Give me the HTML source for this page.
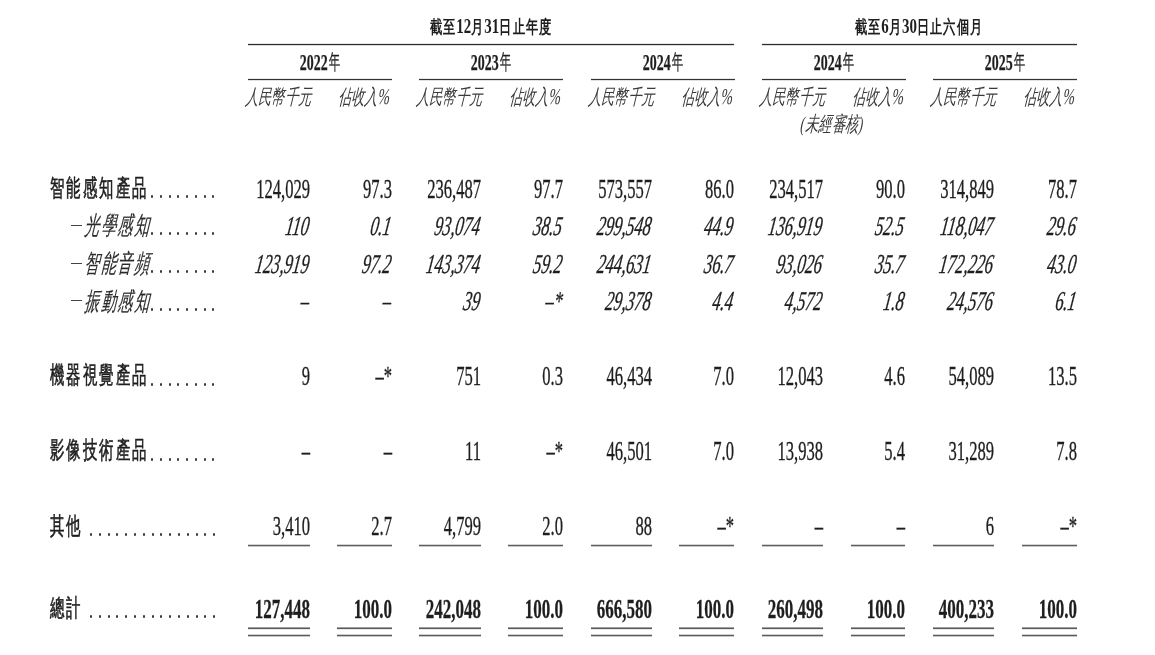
<!DOCTYPE html>
<html><head><meta charset="utf-8"><style>
html,body{margin:0;padding:0;background:#fff;width:1155px;height:655px;overflow:hidden}
body{position:relative;font-family:"Liberation Serif",serif;color:#1e1e1e}
#w{position:absolute;left:0;top:0;width:1155px;height:655px;filter:grayscale(0.7)}
.b{position:absolute}
.ln{box-shadow:0 0 0.8px rgba(0,0,0,0.55)}
.t{position:absolute;white-space:nowrap;line-height:1}
.t.r{width:1000px;text-align:right;transform-origin:100% 0}
.t.r.ni{transform-origin:100% 60%}
.t.c{width:2000px;text-align:center;transform-origin:50% 0}
.t.l{transform-origin:0 60%}
.n{font-family:"Liberation Serif",serif;-webkit-text-stroke:0.35px #1e1e1e}
.ni{font-family:"Liberation Serif",serif;font-style:italic;-webkit-text-stroke:0.35px #1e1e1e}
.nb{font-family:"Liberation Serif",serif;font-weight:bold;-webkit-text-stroke:0.3px #1e1e1e}
.hb{font-family:"Liberation Serif",serif;font-weight:bold}
.dg{font-size:1.22em;letter-spacing:0;line-height:0}
.pc{font-size:1.08em;line-height:0;letter-spacing:0}
.yd{font-size:1.07em;line-height:0;-webkit-text-stroke:0.25px #1e1e1e}
.yn{display:inline-block;font-weight:400;transform:translateY(-1px) scaleX(0.85);transform-origin:0 0;margin-right:-3px;margin-left:2px;-webkit-text-stroke:0.3px #1e1e1e}
.hy{font-family:"Liberation Serif",serif;font-weight:bold}
.hi{font-family:"Liberation Serif",serif;font-style:italic;font-weight:300;color:#3a3a3a}
.lb{font-family:"Liberation Sans",sans-serif;font-weight:400;color:#1e1e1e;-webkit-text-stroke:0.65px #1e1e1e}
.li{font-family:"Liberation Serif",serif;font-style:italic;font-weight:300;color:#2a2a2a;-webkit-text-stroke:0.2px #2a2a2a}
.d{position:absolute;width:2px;height:3px;border-radius:1px;background:#3a3a3a}
</style></head><body><div id="w">
<div class="b" style="left:248px;top:44px;width:486px;height:1px;background:#2d2d2d;box-shadow:0 -1px 0 #e4e4e4,0 1px 0 #d8d8d8"></div>
<div class="b" style="left:762px;top:44px;width:315px;height:1px;background:#2d2d2d;box-shadow:0 -1px 0 #e4e4e4,0 1px 0 #d8d8d8"></div>
<div class="b" style="left:248px;top:79px;width:144px;height:1px;background:#333;box-shadow:0 -1px 0 #e8e8e8,0 1px 0 #e0e0e0"></div>
<div class="b" style="left:419px;top:79px;width:144px;height:1px;background:#333;box-shadow:0 -1px 0 #e8e8e8,0 1px 0 #e0e0e0"></div>
<div class="b" style="left:591px;top:79px;width:144px;height:1px;background:#333;box-shadow:0 -1px 0 #e8e8e8,0 1px 0 #e0e0e0"></div>
<div class="b" style="left:762px;top:79px;width:144px;height:1px;background:#333;box-shadow:0 -1px 0 #e8e8e8,0 1px 0 #e0e0e0"></div>
<div class="b" style="left:933px;top:79px;width:144px;height:1px;background:#333;box-shadow:0 -1px 0 #e8e8e8,0 1px 0 #e0e0e0"></div>
<div class="b" style="left:248px;top:545px;width:62px;height:1px;background:#5e5e5e;box-shadow:0 -1px 0 #d4d4d4,0 1px 0 #c8c8c8"></div>
<div class="b" style="left:248px;top:628px;width:62px;height:1px;background:#5a5a5a;box-shadow:0 -1px 0 #a0a0a0,0 1px 0 #e8e8e8"></div>
<div class="b" style="left:248px;top:635px;width:62px;height:1px;background:#5a5a5a;box-shadow:0 -1px 0 #d0d0d0,0 1px 0 #c8c8c8"></div>
<div class="b" style="left:337px;top:545px;width:55px;height:1px;background:#5e5e5e;box-shadow:0 -1px 0 #d4d4d4,0 1px 0 #c8c8c8"></div>
<div class="b" style="left:337px;top:628px;width:55px;height:1px;background:#5a5a5a;box-shadow:0 -1px 0 #a0a0a0,0 1px 0 #e8e8e8"></div>
<div class="b" style="left:337px;top:635px;width:55px;height:1px;background:#5a5a5a;box-shadow:0 -1px 0 #d0d0d0,0 1px 0 #c8c8c8"></div>
<div class="b" style="left:419px;top:545px;width:62px;height:1px;background:#5e5e5e;box-shadow:0 -1px 0 #d4d4d4,0 1px 0 #c8c8c8"></div>
<div class="b" style="left:419px;top:628px;width:62px;height:1px;background:#5a5a5a;box-shadow:0 -1px 0 #a0a0a0,0 1px 0 #e8e8e8"></div>
<div class="b" style="left:419px;top:635px;width:62px;height:1px;background:#5a5a5a;box-shadow:0 -1px 0 #d0d0d0,0 1px 0 #c8c8c8"></div>
<div class="b" style="left:508px;top:545px;width:55px;height:1px;background:#5e5e5e;box-shadow:0 -1px 0 #d4d4d4,0 1px 0 #c8c8c8"></div>
<div class="b" style="left:508px;top:628px;width:55px;height:1px;background:#5a5a5a;box-shadow:0 -1px 0 #a0a0a0,0 1px 0 #e8e8e8"></div>
<div class="b" style="left:508px;top:635px;width:55px;height:1px;background:#5a5a5a;box-shadow:0 -1px 0 #d0d0d0,0 1px 0 #c8c8c8"></div>
<div class="b" style="left:591px;top:545px;width:61px;height:1px;background:#5e5e5e;box-shadow:0 -1px 0 #d4d4d4,0 1px 0 #c8c8c8"></div>
<div class="b" style="left:591px;top:628px;width:61px;height:1px;background:#5a5a5a;box-shadow:0 -1px 0 #a0a0a0,0 1px 0 #e8e8e8"></div>
<div class="b" style="left:591px;top:635px;width:61px;height:1px;background:#5a5a5a;box-shadow:0 -1px 0 #d0d0d0,0 1px 0 #c8c8c8"></div>
<div class="b" style="left:679px;top:545px;width:55px;height:1px;background:#5e5e5e;box-shadow:0 -1px 0 #d4d4d4,0 1px 0 #c8c8c8"></div>
<div class="b" style="left:679px;top:628px;width:55px;height:1px;background:#5a5a5a;box-shadow:0 -1px 0 #a0a0a0,0 1px 0 #e8e8e8"></div>
<div class="b" style="left:679px;top:635px;width:55px;height:1px;background:#5a5a5a;box-shadow:0 -1px 0 #d0d0d0,0 1px 0 #c8c8c8"></div>
<div class="b" style="left:762px;top:545px;width:61px;height:1px;background:#5e5e5e;box-shadow:0 -1px 0 #d4d4d4,0 1px 0 #c8c8c8"></div>
<div class="b" style="left:762px;top:628px;width:61px;height:1px;background:#5a5a5a;box-shadow:0 -1px 0 #a0a0a0,0 1px 0 #e8e8e8"></div>
<div class="b" style="left:762px;top:635px;width:61px;height:1px;background:#5a5a5a;box-shadow:0 -1px 0 #d0d0d0,0 1px 0 #c8c8c8"></div>
<div class="b" style="left:851px;top:545px;width:54px;height:1px;background:#5e5e5e;box-shadow:0 -1px 0 #d4d4d4,0 1px 0 #c8c8c8"></div>
<div class="b" style="left:851px;top:628px;width:54px;height:1px;background:#5a5a5a;box-shadow:0 -1px 0 #a0a0a0,0 1px 0 #e8e8e8"></div>
<div class="b" style="left:851px;top:635px;width:54px;height:1px;background:#5a5a5a;box-shadow:0 -1px 0 #d0d0d0,0 1px 0 #c8c8c8"></div>
<div class="b" style="left:933px;top:545px;width:61px;height:1px;background:#5e5e5e;box-shadow:0 -1px 0 #d4d4d4,0 1px 0 #c8c8c8"></div>
<div class="b" style="left:933px;top:628px;width:61px;height:1px;background:#5a5a5a;box-shadow:0 -1px 0 #a0a0a0,0 1px 0 #e8e8e8"></div>
<div class="b" style="left:933px;top:635px;width:61px;height:1px;background:#5a5a5a;box-shadow:0 -1px 0 #d0d0d0,0 1px 0 #c8c8c8"></div>
<div class="b" style="left:1022px;top:545px;width:55px;height:1px;background:#5e5e5e;box-shadow:0 -1px 0 #d4d4d4,0 1px 0 #c8c8c8"></div>
<div class="b" style="left:1022px;top:628px;width:55px;height:1px;background:#5a5a5a;box-shadow:0 -1px 0 #a0a0a0,0 1px 0 #e8e8e8"></div>
<div class="b" style="left:1022px;top:635px;width:55px;height:1px;background:#5a5a5a;box-shadow:0 -1px 0 #d0d0d0,0 1px 0 #c8c8c8"></div>
<div class="t c hb" style="left:-508.80px;top:18.00px;font-size:18.0px;transform:scaleX(0.68);letter-spacing:1.5px">截至<span class="dg">12</span>月<span class="dg">31</span>日止年度</div>
<div class="t c hb" style="left:-81.40px;top:18.00px;font-size:18.0px;transform:scaleX(0.68);letter-spacing:1.5px">截至<span class="dg">6</span>月<span class="dg">30</span>日止六個月</div>
<div class="t c hy" style="left:-680.00px;top:52.50px;font-size:21.0px;transform:scaleX(0.62);"><span class="yd">2022</span><span class="yn">年</span></div>
<div class="t c hy" style="left:-509.00px;top:52.50px;font-size:21.0px;transform:scaleX(0.62);"><span class="yd">2023</span><span class="yn">年</span></div>
<div class="t c hy" style="left:-337.00px;top:52.50px;font-size:21.0px;transform:scaleX(0.62);"><span class="yd">2024</span><span class="yn">年</span></div>
<div class="t c hy" style="left:-166.00px;top:52.50px;font-size:21.0px;transform:scaleX(0.62);"><span class="yd">2024</span><span class="yn">年</span></div>
<div class="t c hy" style="left:5.00px;top:52.50px;font-size:21.0px;transform:scaleX(0.62);"><span class="yd">2025</span><span class="yn">年</span></div>
<div class="t l hi" style="left:245.00px;top:86.90px;font-size:21.0px;transform:scaleX(0.62) skewX(-8deg);letter-spacing:0.6px">人民幣千元</div>
<div class="t r hi" style="left:-609.00px;top:86.90px;font-size:21.0px;transform:scaleX(0.62) skewX(-8deg);letter-spacing:0.6px">佔收入<span class="pc">%</span></div>
<div class="t l hi" style="left:416.00px;top:86.90px;font-size:21.0px;transform:scaleX(0.62) skewX(-8deg);letter-spacing:0.6px">人民幣千元</div>
<div class="t r hi" style="left:-438.00px;top:86.90px;font-size:21.0px;transform:scaleX(0.62) skewX(-8deg);letter-spacing:0.6px">佔收入<span class="pc">%</span></div>
<div class="t l hi" style="left:588.00px;top:86.90px;font-size:21.0px;transform:scaleX(0.62) skewX(-8deg);letter-spacing:0.6px">人民幣千元</div>
<div class="t r hi" style="left:-266.00px;top:86.90px;font-size:21.0px;transform:scaleX(0.62) skewX(-8deg);letter-spacing:0.6px">佔收入<span class="pc">%</span></div>
<div class="t l hi" style="left:759.00px;top:86.90px;font-size:21.0px;transform:scaleX(0.62) skewX(-8deg);letter-spacing:0.6px">人民幣千元</div>
<div class="t r hi" style="left:-95.00px;top:86.90px;font-size:21.0px;transform:scaleX(0.62) skewX(-8deg);letter-spacing:0.6px">佔收入<span class="pc">%</span></div>
<div class="t l hi" style="left:930.00px;top:86.90px;font-size:21.0px;transform:scaleX(0.62) skewX(-8deg);letter-spacing:0.6px">人民幣千元</div>
<div class="t r hi" style="left:76.00px;top:86.90px;font-size:21.0px;transform:scaleX(0.62) skewX(-8deg);letter-spacing:0.6px">佔收入<span class="pc">%</span></div>
<div class="t c hi" style="left:-167.00px;top:113.90px;font-size:21.0px;transform:scaleX(0.62) skewX(-8deg);letter-spacing:0.6px">(未經審核)</div>
<div class="t l lb" style="left:50.00px;top:176.40px;font-size:24.0px;transform:scaleX(0.6);letter-spacing:3.3px">智能感知產品</div>
<div class="b" style="left:71px;top:225px;width:11px;height:1px;background:#444"></div>
<div class="t l li" style="left:85.00px;top:212.90px;font-size:25.3px;transform:scaleX(0.59) skewX(-9deg);letter-spacing:2.8px">光學感知</div>
<div class="b" style="left:71px;top:263px;width:11px;height:1px;background:#444"></div>
<div class="t l li" style="left:85.00px;top:250.70px;font-size:25.3px;transform:scaleX(0.59) skewX(-9deg);letter-spacing:2.8px">智能音頻</div>
<div class="b" style="left:71px;top:300px;width:11px;height:1px;background:#444"></div>
<div class="t l li" style="left:85.00px;top:288.50px;font-size:25.3px;transform:scaleX(0.59) skewX(-9deg);letter-spacing:2.8px">振動感知</div>
<div class="t l lb" style="left:50.00px;top:363.40px;font-size:24.0px;transform:scaleX(0.6);letter-spacing:3.3px">機器視覺產品</div>
<div class="t l lb" style="left:50.00px;top:438.30px;font-size:24.0px;transform:scaleX(0.6);letter-spacing:3.3px">影像技術產品</div>
<div class="t l lb" style="left:50.00px;top:513.80px;font-size:24.0px;transform:scaleX(0.6);letter-spacing:3.3px">其他</div>
<div class="t l lb" style="left:50.00px;top:596.40px;font-size:24.0px;transform:scaleX(0.6);letter-spacing:3.3px">總計</div>
<div class="d" style="left:151px;top:195px"></div>
<div class="d" style="left:160px;top:195px"></div>
<div class="d" style="left:169px;top:195px"></div>
<div class="d" style="left:177px;top:195px"></div>
<div class="d" style="left:186px;top:195px"></div>
<div class="d" style="left:195px;top:195px"></div>
<div class="d" style="left:204px;top:195px"></div>
<div class="d" style="left:212px;top:195px"></div>
<div class="d" style="left:151px;top:232px"></div>
<div class="d" style="left:160px;top:232px"></div>
<div class="d" style="left:169px;top:232px"></div>
<div class="d" style="left:177px;top:232px"></div>
<div class="d" style="left:186px;top:232px"></div>
<div class="d" style="left:195px;top:232px"></div>
<div class="d" style="left:204px;top:232px"></div>
<div class="d" style="left:212px;top:232px"></div>
<div class="d" style="left:151px;top:270px"></div>
<div class="d" style="left:160px;top:270px"></div>
<div class="d" style="left:169px;top:270px"></div>
<div class="d" style="left:177px;top:270px"></div>
<div class="d" style="left:186px;top:270px"></div>
<div class="d" style="left:195px;top:270px"></div>
<div class="d" style="left:204px;top:270px"></div>
<div class="d" style="left:212px;top:270px"></div>
<div class="d" style="left:151px;top:308px"></div>
<div class="d" style="left:160px;top:308px"></div>
<div class="d" style="left:169px;top:308px"></div>
<div class="d" style="left:177px;top:308px"></div>
<div class="d" style="left:186px;top:308px"></div>
<div class="d" style="left:195px;top:308px"></div>
<div class="d" style="left:204px;top:308px"></div>
<div class="d" style="left:212px;top:308px"></div>
<div class="d" style="left:151px;top:383px"></div>
<div class="d" style="left:160px;top:383px"></div>
<div class="d" style="left:169px;top:383px"></div>
<div class="d" style="left:177px;top:383px"></div>
<div class="d" style="left:186px;top:383px"></div>
<div class="d" style="left:195px;top:383px"></div>
<div class="d" style="left:204px;top:383px"></div>
<div class="d" style="left:212px;top:383px"></div>
<div class="d" style="left:151px;top:458px"></div>
<div class="d" style="left:160px;top:458px"></div>
<div class="d" style="left:169px;top:458px"></div>
<div class="d" style="left:177px;top:458px"></div>
<div class="d" style="left:186px;top:458px"></div>
<div class="d" style="left:195px;top:458px"></div>
<div class="d" style="left:204px;top:458px"></div>
<div class="d" style="left:212px;top:458px"></div>
<div class="d" style="left:90px;top:533px"></div>
<div class="d" style="left:99px;top:533px"></div>
<div class="d" style="left:108px;top:533px"></div>
<div class="d" style="left:116px;top:533px"></div>
<div class="d" style="left:125px;top:533px"></div>
<div class="d" style="left:134px;top:533px"></div>
<div class="d" style="left:143px;top:533px"></div>
<div class="d" style="left:152px;top:533px"></div>
<div class="d" style="left:160px;top:533px"></div>
<div class="d" style="left:169px;top:533px"></div>
<div class="d" style="left:178px;top:533px"></div>
<div class="d" style="left:187px;top:533px"></div>
<div class="d" style="left:196px;top:533px"></div>
<div class="d" style="left:204px;top:533px"></div>
<div class="d" style="left:213px;top:533px"></div>
<div class="d" style="left:90px;top:615px"></div>
<div class="d" style="left:99px;top:615px"></div>
<div class="d" style="left:108px;top:615px"></div>
<div class="d" style="left:116px;top:615px"></div>
<div class="d" style="left:125px;top:615px"></div>
<div class="d" style="left:134px;top:615px"></div>
<div class="d" style="left:143px;top:615px"></div>
<div class="d" style="left:152px;top:615px"></div>
<div class="d" style="left:160px;top:615px"></div>
<div class="d" style="left:169px;top:615px"></div>
<div class="d" style="left:178px;top:615px"></div>
<div class="d" style="left:187px;top:615px"></div>
<div class="d" style="left:196px;top:615px"></div>
<div class="d" style="left:204px;top:615px"></div>
<div class="d" style="left:213px;top:615px"></div>
<div class="t r n" style="left:-690.20px;top:176.34px;font-size:27.3px;transform:scaleX(0.607)">124,029</div>
<div class="t r n" style="left:-608.00px;top:176.34px;font-size:27.3px;transform:scaleX(0.607)">97.3</div>
<div class="t r n" style="left:-519.10px;top:176.34px;font-size:27.3px;transform:scaleX(0.607)">236,487</div>
<div class="t r n" style="left:-436.90px;top:176.34px;font-size:27.3px;transform:scaleX(0.607)">97.7</div>
<div class="t r n" style="left:-348.00px;top:176.34px;font-size:27.3px;transform:scaleX(0.607)">573,557</div>
<div class="t r n" style="left:-265.80px;top:176.34px;font-size:27.3px;transform:scaleX(0.607)">86.0</div>
<div class="t r n" style="left:-176.80px;top:176.34px;font-size:27.3px;transform:scaleX(0.607)">234,517</div>
<div class="t r n" style="left:-94.60px;top:176.34px;font-size:27.3px;transform:scaleX(0.607)">90.0</div>
<div class="t r n" style="left:-5.80px;top:176.34px;font-size:27.3px;transform:scaleX(0.607)">314,849</div>
<div class="t r n" style="left:77.00px;top:176.34px;font-size:27.3px;transform:scaleX(0.607)">78.7</div>
<div class="t r ni" style="left:-691.40px;top:212.94px;font-size:27.3px;transform:scaleX(0.607) skewX(-14deg)">110</div>
<div class="t r ni" style="left:-609.20px;top:212.94px;font-size:27.3px;transform:scaleX(0.607) skewX(-14deg)">0.1</div>
<div class="t r ni" style="left:-520.30px;top:212.94px;font-size:27.3px;transform:scaleX(0.607) skewX(-14deg)">93,074</div>
<div class="t r ni" style="left:-438.10px;top:212.94px;font-size:27.3px;transform:scaleX(0.607) skewX(-14deg)">38.5</div>
<div class="t r ni" style="left:-349.20px;top:212.94px;font-size:27.3px;transform:scaleX(0.607) skewX(-14deg)">299,548</div>
<div class="t r ni" style="left:-267.00px;top:212.94px;font-size:27.3px;transform:scaleX(0.607) skewX(-14deg)">44.9</div>
<div class="t r ni" style="left:-178.00px;top:212.94px;font-size:27.3px;transform:scaleX(0.607) skewX(-14deg)">136,919</div>
<div class="t r ni" style="left:-95.80px;top:212.94px;font-size:27.3px;transform:scaleX(0.607) skewX(-14deg)">52.5</div>
<div class="t r ni" style="left:-7.00px;top:212.94px;font-size:27.3px;transform:scaleX(0.607) skewX(-14deg)">118,047</div>
<div class="t r ni" style="left:75.80px;top:212.94px;font-size:27.3px;transform:scaleX(0.607) skewX(-14deg)">29.6</div>
<div class="t r ni" style="left:-691.40px;top:251.04px;font-size:27.3px;transform:scaleX(0.607) skewX(-14deg)">123,919</div>
<div class="t r ni" style="left:-609.20px;top:251.04px;font-size:27.3px;transform:scaleX(0.607) skewX(-14deg)">97.2</div>
<div class="t r ni" style="left:-520.30px;top:251.04px;font-size:27.3px;transform:scaleX(0.607) skewX(-14deg)">143,374</div>
<div class="t r ni" style="left:-438.10px;top:251.04px;font-size:27.3px;transform:scaleX(0.607) skewX(-14deg)">59.2</div>
<div class="t r ni" style="left:-349.20px;top:251.04px;font-size:27.3px;transform:scaleX(0.607) skewX(-14deg)">244,631</div>
<div class="t r ni" style="left:-267.00px;top:251.04px;font-size:27.3px;transform:scaleX(0.607) skewX(-14deg)">36.7</div>
<div class="t r ni" style="left:-178.00px;top:251.04px;font-size:27.3px;transform:scaleX(0.607) skewX(-14deg)">93,026</div>
<div class="t r ni" style="left:-95.80px;top:251.04px;font-size:27.3px;transform:scaleX(0.607) skewX(-14deg)">35.7</div>
<div class="t r ni" style="left:-7.00px;top:251.04px;font-size:27.3px;transform:scaleX(0.607) skewX(-14deg)">172,226</div>
<div class="t r ni" style="left:75.80px;top:251.04px;font-size:27.3px;transform:scaleX(0.607) skewX(-14deg)">43.0</div>
<div class="t r ni" style="left:-691.40px;top:288.04px;font-size:27.3px;transform:scaleX(0.607) skewX(-14deg)">–</div>
<div class="t r ni" style="left:-609.20px;top:288.04px;font-size:27.3px;transform:scaleX(0.607) skewX(-14deg)">–</div>
<div class="t r ni" style="left:-520.30px;top:288.04px;font-size:27.3px;transform:scaleX(0.607) skewX(-14deg)">39</div>
<div class="t r ni" style="left:-438.10px;top:288.04px;font-size:27.3px;transform:scaleX(0.607) skewX(-14deg)">–*</div>
<div class="t r ni" style="left:-349.20px;top:288.04px;font-size:27.3px;transform:scaleX(0.607) skewX(-14deg)">29,378</div>
<div class="t r ni" style="left:-267.00px;top:288.04px;font-size:27.3px;transform:scaleX(0.607) skewX(-14deg)">4.4</div>
<div class="t r ni" style="left:-178.00px;top:288.04px;font-size:27.3px;transform:scaleX(0.607) skewX(-14deg)">4,572</div>
<div class="t r ni" style="left:-95.80px;top:288.04px;font-size:27.3px;transform:scaleX(0.607) skewX(-14deg)">1.8</div>
<div class="t r ni" style="left:-7.00px;top:288.04px;font-size:27.3px;transform:scaleX(0.607) skewX(-14deg)">24,576</div>
<div class="t r ni" style="left:75.80px;top:288.04px;font-size:27.3px;transform:scaleX(0.607) skewX(-14deg)">6.1</div>
<div class="t r n" style="left:-690.20px;top:363.34px;font-size:27.3px;transform:scaleX(0.607)">9</div>
<div class="t r n" style="left:-608.00px;top:363.34px;font-size:27.3px;transform:scaleX(0.607)">–*</div>
<div class="t r n" style="left:-519.10px;top:363.34px;font-size:27.3px;transform:scaleX(0.607)">751</div>
<div class="t r n" style="left:-436.90px;top:363.34px;font-size:27.3px;transform:scaleX(0.607)">0.3</div>
<div class="t r n" style="left:-348.00px;top:363.34px;font-size:27.3px;transform:scaleX(0.607)">46,434</div>
<div class="t r n" style="left:-265.80px;top:363.34px;font-size:27.3px;transform:scaleX(0.607)">7.0</div>
<div class="t r n" style="left:-176.80px;top:363.34px;font-size:27.3px;transform:scaleX(0.607)">12,043</div>
<div class="t r n" style="left:-94.60px;top:363.34px;font-size:27.3px;transform:scaleX(0.607)">4.6</div>
<div class="t r n" style="left:-5.80px;top:363.34px;font-size:27.3px;transform:scaleX(0.607)">54,089</div>
<div class="t r n" style="left:77.00px;top:363.34px;font-size:27.3px;transform:scaleX(0.607)">13.5</div>
<div class="t r n" style="left:-690.20px;top:437.84px;font-size:27.3px;transform:scaleX(0.607)">–</div>
<div class="t r n" style="left:-608.00px;top:437.84px;font-size:27.3px;transform:scaleX(0.607)">–</div>
<div class="t r n" style="left:-519.10px;top:437.84px;font-size:27.3px;transform:scaleX(0.607)">11</div>
<div class="t r n" style="left:-436.90px;top:437.84px;font-size:27.3px;transform:scaleX(0.607)">–*</div>
<div class="t r n" style="left:-348.00px;top:437.84px;font-size:27.3px;transform:scaleX(0.607)">46,501</div>
<div class="t r n" style="left:-265.80px;top:437.84px;font-size:27.3px;transform:scaleX(0.607)">7.0</div>
<div class="t r n" style="left:-176.80px;top:437.84px;font-size:27.3px;transform:scaleX(0.607)">13,938</div>
<div class="t r n" style="left:-94.60px;top:437.84px;font-size:27.3px;transform:scaleX(0.607)">5.4</div>
<div class="t r n" style="left:-5.80px;top:437.84px;font-size:27.3px;transform:scaleX(0.607)">31,289</div>
<div class="t r n" style="left:77.00px;top:437.84px;font-size:27.3px;transform:scaleX(0.607)">7.8</div>
<div class="t r n" style="left:-690.20px;top:513.14px;font-size:27.3px;transform:scaleX(0.607)">3,410</div>
<div class="t r n" style="left:-608.00px;top:513.14px;font-size:27.3px;transform:scaleX(0.607)">2.7</div>
<div class="t r n" style="left:-519.10px;top:513.14px;font-size:27.3px;transform:scaleX(0.607)">4,799</div>
<div class="t r n" style="left:-436.90px;top:513.14px;font-size:27.3px;transform:scaleX(0.607)">2.0</div>
<div class="t r n" style="left:-348.00px;top:513.14px;font-size:27.3px;transform:scaleX(0.607)">88</div>
<div class="t r n" style="left:-265.80px;top:513.14px;font-size:27.3px;transform:scaleX(0.607)">–*</div>
<div class="t r n" style="left:-176.80px;top:513.14px;font-size:27.3px;transform:scaleX(0.607)">–</div>
<div class="t r n" style="left:-94.60px;top:513.14px;font-size:27.3px;transform:scaleX(0.607)">–</div>
<div class="t r n" style="left:-5.80px;top:513.14px;font-size:27.3px;transform:scaleX(0.607)">6</div>
<div class="t r n" style="left:77.00px;top:513.14px;font-size:27.3px;transform:scaleX(0.607)">–*</div>
<div class="t r nb" style="left:-690.30px;top:595.84px;font-size:27.3px;transform:scaleX(0.623389)">127,448</div>
<div class="t r nb" style="left:-608.10px;top:595.84px;font-size:27.3px;transform:scaleX(0.623389)">100.0</div>
<div class="t r nb" style="left:-519.20px;top:595.84px;font-size:27.3px;transform:scaleX(0.623389)">242,048</div>
<div class="t r nb" style="left:-437.00px;top:595.84px;font-size:27.3px;transform:scaleX(0.623389)">100.0</div>
<div class="t r nb" style="left:-348.10px;top:595.84px;font-size:27.3px;transform:scaleX(0.623389)">666,580</div>
<div class="t r nb" style="left:-265.90px;top:595.84px;font-size:27.3px;transform:scaleX(0.623389)">100.0</div>
<div class="t r nb" style="left:-176.90px;top:595.84px;font-size:27.3px;transform:scaleX(0.623389)">260,498</div>
<div class="t r nb" style="left:-94.70px;top:595.84px;font-size:27.3px;transform:scaleX(0.623389)">100.0</div>
<div class="t r nb" style="left:-5.90px;top:595.84px;font-size:27.3px;transform:scaleX(0.623389)">400,233</div>
<div class="t r nb" style="left:76.90px;top:595.84px;font-size:27.3px;transform:scaleX(0.623389)">100.0</div>
</div></body></html>
